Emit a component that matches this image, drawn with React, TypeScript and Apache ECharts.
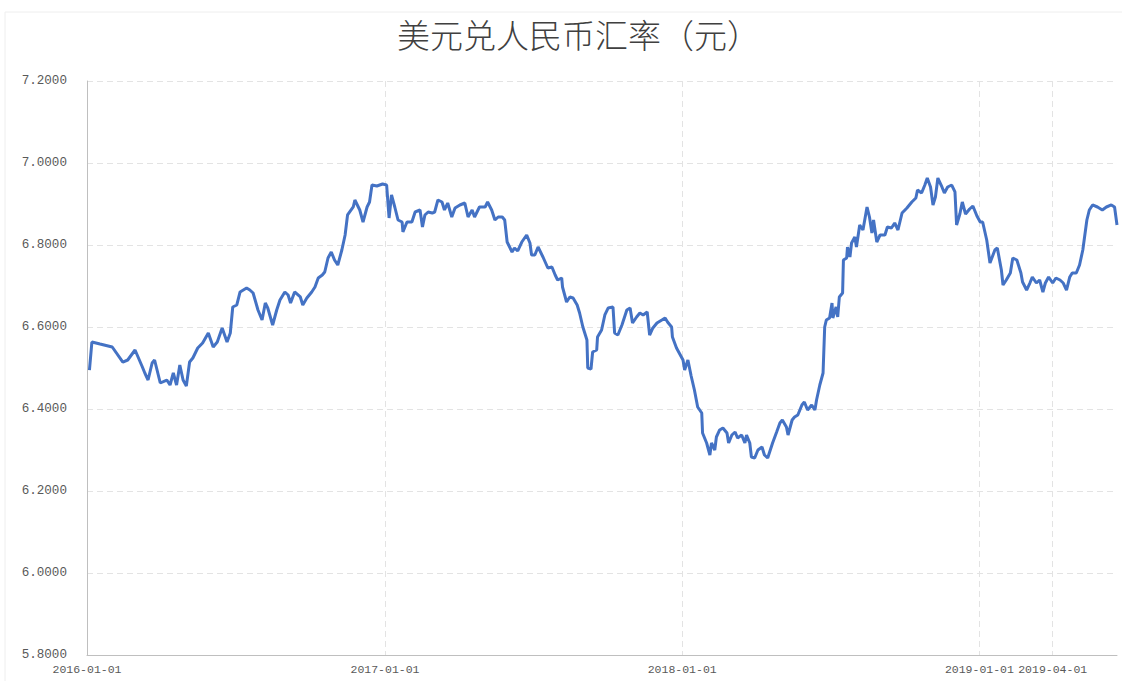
import React, { useEffect, useRef } from "react";
import * as echarts from "echarts";

const titleText = "美元兑人民币汇率（元）";

const dates: string[] = [
  "2016-01-04","2016-01-07","2016-01-17","2016-02-01","2016-02-14","2016-02-20","2016-02-29","2016-03-09","2016-03-12","2016-03-16",
  "2016-03-21","2016-03-24","2016-03-31","2016-04-08","2016-04-12","2016-04-16","2016-04-20","2016-04-24","2016-04-28","2016-05-02",
  "2016-05-06","2016-05-10","2016-05-16","2016-05-22","2016-05-29","2016-06-04","2016-06-09","2016-06-15","2016-06-21","2016-06-25",
  "2016-06-28","2016-07-03","2016-07-07","2016-07-15","2016-07-19","2016-07-23","2016-07-29","2016-08-03","2016-08-07","2016-08-10",
  "2016-08-16","2016-08-21","2016-08-25","2016-08-31","2016-09-04","2016-09-07","2016-09-12","2016-09-19","2016-09-22","2016-09-27",
  "2016-10-03","2016-10-07","2016-10-11","2016-10-16","2016-10-19","2016-10-23","2016-10-27","2016-10-31","2016-11-04","2016-11-09",
  "2016-11-13","2016-11-16","2016-11-23","2016-11-25","2016-12-01","2016-12-05","2016-12-10","2016-12-13","2016-12-16","2016-12-22",
  "2016-12-29","2017-01-03","2017-01-06","2017-01-09","2017-01-13","2017-01-17","2017-01-22","2017-01-23","2017-01-28","2017-02-03",
  "2017-02-07","2017-02-13","2017-02-16","2017-02-19","2017-02-23","2017-02-28","2017-03-03","2017-03-07","2017-03-12","2017-03-15",
  "2017-03-19","2017-03-24","2017-03-28","2017-04-03","2017-04-09","2017-04-13","2017-04-18","2017-04-21","2017-04-27","2017-05-04",
  "2017-05-07","2017-05-12","2017-05-16","2017-05-20","2017-05-25","2017-05-28","2017-05-31","2017-06-06","2017-06-09","2017-06-13",
  "2017-06-18","2017-06-24","2017-06-28","2017-06-30","2017-07-04","2017-07-08","2017-07-14","2017-07-20","2017-07-25","2017-07-29",
  "2017-08-01","2017-08-06","2017-08-07","2017-08-12","2017-08-16","2017-08-20","2017-08-25","2017-08-28","2017-09-01","2017-09-06",
  "2017-09-07","2017-09-11","2017-09-13","2017-09-18","2017-09-19","2017-09-24","2017-09-28","2017-10-02","2017-10-08","2017-10-10",
  "2017-10-14","2017-10-19","2017-10-25","2017-10-29","2017-11-01","2017-11-06","2017-11-10","2017-11-14","2017-11-19","2017-11-22",
  "2017-11-26","2017-12-01","2017-12-07","2017-12-11","2017-12-14","2017-12-19","2017-12-20","2017-12-25","2018-01-02","2018-01-04",
  "2018-01-08","2018-01-12","2018-01-16","2018-01-20","2018-01-25","2018-01-26","2018-01-31","2018-02-04","2018-02-06","2018-02-10",
  "2018-02-12","2018-02-16","2018-02-20","2018-02-25","2018-02-27","2018-03-03","2018-03-07","2018-03-10","2018-03-15","2018-03-19",
  "2018-03-21","2018-03-25","2018-03-27","2018-03-31","2018-04-04","2018-04-09","2018-04-12","2018-04-16","2018-04-22","2018-04-27",
  "2018-05-01","2018-05-04","2018-05-09","2018-05-11","2018-05-16","2018-05-19","2018-05-23","2018-05-28","2018-05-31","2018-06-04",
  "2018-06-09","2018-06-13","2018-06-15","2018-06-19","2018-06-23","2018-06-25","2018-06-27","2018-07-01","2018-07-04","2018-07-05",
  "2018-07-09","2018-07-11","2018-07-13","2018-07-17","2018-07-18","2018-07-22","2018-07-23","2018-07-26","2018-07-28","2018-08-01",
  "2018-08-03","2018-08-07","2018-08-11","2018-08-16","2018-08-19","2018-08-22","2018-08-24","2018-08-28","2018-09-01","2018-09-07",
  "2018-09-10","2018-09-15","2018-09-19","2018-09-23","2018-09-28","2018-10-04","2018-10-10","2018-10-15","2018-10-17","2018-10-22",
  "2018-10-26","2018-10-29","2018-11-02","2018-11-05","2018-11-08","2018-11-11","2018-11-16","2018-11-19","2018-11-23","2018-11-28",
  "2018-12-02","2018-12-04","2018-12-08","2018-12-11","2018-12-15","2018-12-20","2018-12-24","2018-12-29","2019-01-02","2019-01-05",
  "2019-01-10","2019-01-14","2019-01-20","2019-01-23","2019-01-28","2019-01-30","2019-02-03","2019-02-08","2019-02-11","2019-02-16",
  "2019-02-21","2019-02-23","2019-02-28","2019-03-04","2019-03-07","2019-03-12","2019-03-16","2019-03-20","2019-03-23","2019-03-27",
  "2019-04-01","2019-04-05","2019-04-10","2019-04-14","2019-04-18","2019-04-22","2019-04-25","2019-04-30","2019-05-04","2019-05-08",
  "2019-05-13","2019-05-16","2019-05-20","2019-05-26","2019-06-01","2019-06-06","2019-06-12","2019-06-16","2019-06-19"
];

const rates: number[] = [
  6.4951,6.5634,6.5585,6.5512,6.5146,6.5195,6.5439,6.5024,6.4878,6.4707,
  6.5122,6.5195,6.4634,6.4707,6.4585,6.4878,6.4585,6.5073,6.4707,6.4561,
  6.5146,6.5244,6.5488,6.5610,6.5854,6.5512,6.5634,6.5976,6.5634,6.5854,
  6.6488,6.6537,6.6854,6.6951,6.6902,6.6829,6.6415,6.6171,6.6585,6.6463,
  6.6049,6.6415,6.6659,6.6854,6.6780,6.6585,6.6854,6.6732,6.6537,6.6707,
  6.6854,6.6976,6.7195,6.7268,6.7341,6.7683,6.7829,6.7634,6.7512,6.7878,
  6.8244,6.8732,6.8927,6.9098,6.8854,6.8561,6.8927,6.9049,6.9463,6.9439,
  6.9488,6.9463,6.8659,6.9220,6.8927,6.8610,6.8561,6.8317,6.8561,6.8561,
  6.8805,6.8854,6.8439,6.8732,6.8805,6.8780,6.8805,6.9098,6.9049,6.8854,
  6.9024,6.8683,6.8902,6.8976,6.9024,6.8683,6.8854,6.8683,6.8927,6.8927,
  6.9049,6.8854,6.8610,6.8683,6.8683,6.8610,6.8073,6.7829,6.7927,6.7854,
  6.8073,6.8244,6.8049,6.7756,6.7756,6.7951,6.7707,6.7439,6.7463,6.7268,
  6.7146,6.7195,6.6976,6.6610,6.6732,6.6707,6.6537,6.6341,6.6000,6.5683,
  6.5000,6.4976,6.5390,6.5439,6.5756,6.5927,6.6293,6.6463,6.6488,6.5854,
  6.5805,6.6049,6.6415,6.6463,6.6098,6.6244,6.6341,6.6293,6.6366,6.5805,
  6.5976,6.6098,6.6171,6.6220,6.6122,6.6000,6.5756,6.5488,6.5195,6.4951,
  6.5195,6.4805,6.4463,6.4049,6.3902,6.3415,6.3171,6.2878,6.3171,6.3000,
  6.3317,6.3488,6.3537,6.3415,6.3171,6.3366,6.3439,6.3293,6.3366,6.3171,
  6.3366,6.3171,6.2829,6.2805,6.3000,6.3073,6.2878,6.2805,6.3171,6.3439,
  6.3659,6.3732,6.3561,6.3366,6.3732,6.3805,6.3854,6.4098,6.4171,6.3976,
  6.4098,6.3976,6.4220,6.4585,6.4878,6.6000,6.6171,6.6220,6.6585,6.6220,
  6.6488,6.6244,6.6732,6.6829,6.7634,6.7683,6.7951,6.7707,6.8049,6.8195,
  6.7951,6.8488,6.8366,6.8927,6.8683,6.8293,6.8610,6.8073,6.8244,6.8244,
  6.8439,6.8415,6.8537,6.8366,6.8780,6.8902,6.9049,6.9146,6.9341,6.9268,
  6.9463,6.9634,6.9415,6.8976,6.9171,6.9634,6.9415,6.9268,6.9415,6.9463,
  6.9293,6.8488,6.8756,6.9049,6.8756,6.8878,6.8951,6.8707,6.8561,6.8561,
  6.8122,6.7561,6.7878,6.7927,6.7390,6.7024,6.7146,6.7317,6.7683,6.7634,
  6.7317,6.7098,6.6902,6.7073,6.7220,6.7073,6.7146,6.6854,6.7073,6.7220,
  6.7073,6.7195,6.7146,6.7073,6.6902,6.7220,6.7317,6.7317,6.7512,6.7878,
  6.8610,6.8854,6.8976,6.8927,6.8854,6.8927,6.8976,6.8927,6.8488
];

const xTickDates: string[] = ["2016-01-01", "2017-01-01", "2018-01-01", "2019-01-01", "2019-04-01"];
const xRange: string[] = ["2016-01-01", "2019-06-19"];
const yRange: number[] = [5.8, 7.2];
const yStep = 0.2;

const toMs = (s: string) => {
  const [y, m, d] = s.split("-").map(Number);
  return Date.UTC(y, m - 1, d);
};
const pad = (n: number) => (n < 10 ? "0" + n : "" + n);
const fmtDate = (v: number) => {
  const d = new Date(v);
  return d.getUTCFullYear() + "-" + pad(d.getUTCMonth() + 1) + "-" + pad(d.getUTCDate());
};

export default function App() {
  const ref = useRef<HTMLDivElement>(null);
  useEffect(() => {
    document.body.style.margin = "0";
    if (!ref.current) return;
    const chart = echarts.init(ref.current, null, { renderer: "svg" });
    const tickValues = xTickDates.map(toMs);
    const labelFont = "'Liberation Mono', 'DejaVu Sans Mono', monospace";
    chart.setOption({
      animation: false,
      backgroundColor: "#ffffff",
      title: {
        text: titleText,
        left: 392,
        top: 12,
        textStyle: {
          fontFamily: "'Noto Sans CJK SC', sans-serif",
          fontSize: 33,
          fontWeight: 300,
          color: "#404040",
        },
      },
      graphic: [
        {
          type: "rect",
          shape: { x: 5, y: 12, width: 1130, height: 700 },
          style: { fill: "none", stroke: "#eeeeee", lineWidth: 1 },
          silent: true,
          z: -1,
        },
      ],
      grid: { left: 87, right: 5, top: 81, bottom: 26 },
      xAxis: {
        type: "value",
        min: toMs(xRange[0]),
        max: toMs(xRange[1]),
        axisLine: { show: true, lineStyle: { color: "#bfbfbf", width: 1 } },
        axisTick: { show: false, customValues: tickValues },
        axisLabel: {
          customValues: tickValues,
          formatter: (v: number) => fmtDate(v),
          interval: 0,
          hideOverlap: false,
          showMinLabel: true,
          showMaxLabel: true,
          margin: 8,
          fontFamily: labelFont,
          fontSize: 11.5,
          color: "#595959",
        },
        splitLine: {
          show: true,
          lineStyle: { color: "#e3e3e3", type: [6, 4], width: 1 },
        },
      },
      yAxis: {
        type: "value",
        min: yRange[0],
        max: yRange[1],
        interval: yStep,
        axisLine: { show: true, lineStyle: { color: "#bfbfbf", width: 1 } },
        axisTick: { show: false },
        axisLabel: {
          formatter: (v: number) => v.toFixed(4),
          margin: 20,
          fontFamily: labelFont,
          fontSize: 12.6,
          color: "#595959",
        },
        splitLine: {
          show: true,
          lineStyle: { color: "#e3e3e3", type: [6, 4], width: 1 },
        },
      },
      series: [
        {
          type: "line",
          data: dates.map((d, i) => [toMs(d), rates[i]]),
          symbol: "none",
          smooth: false,
          lineStyle: { color: "#4472C4", width: 3 },
          itemStyle: { color: "#4472C4" },
        },
      ],
    });
    return () => chart.dispose();
  }, []);
  return <div ref={ref} style={{ width: 1122, height: 681 }} />;
}
